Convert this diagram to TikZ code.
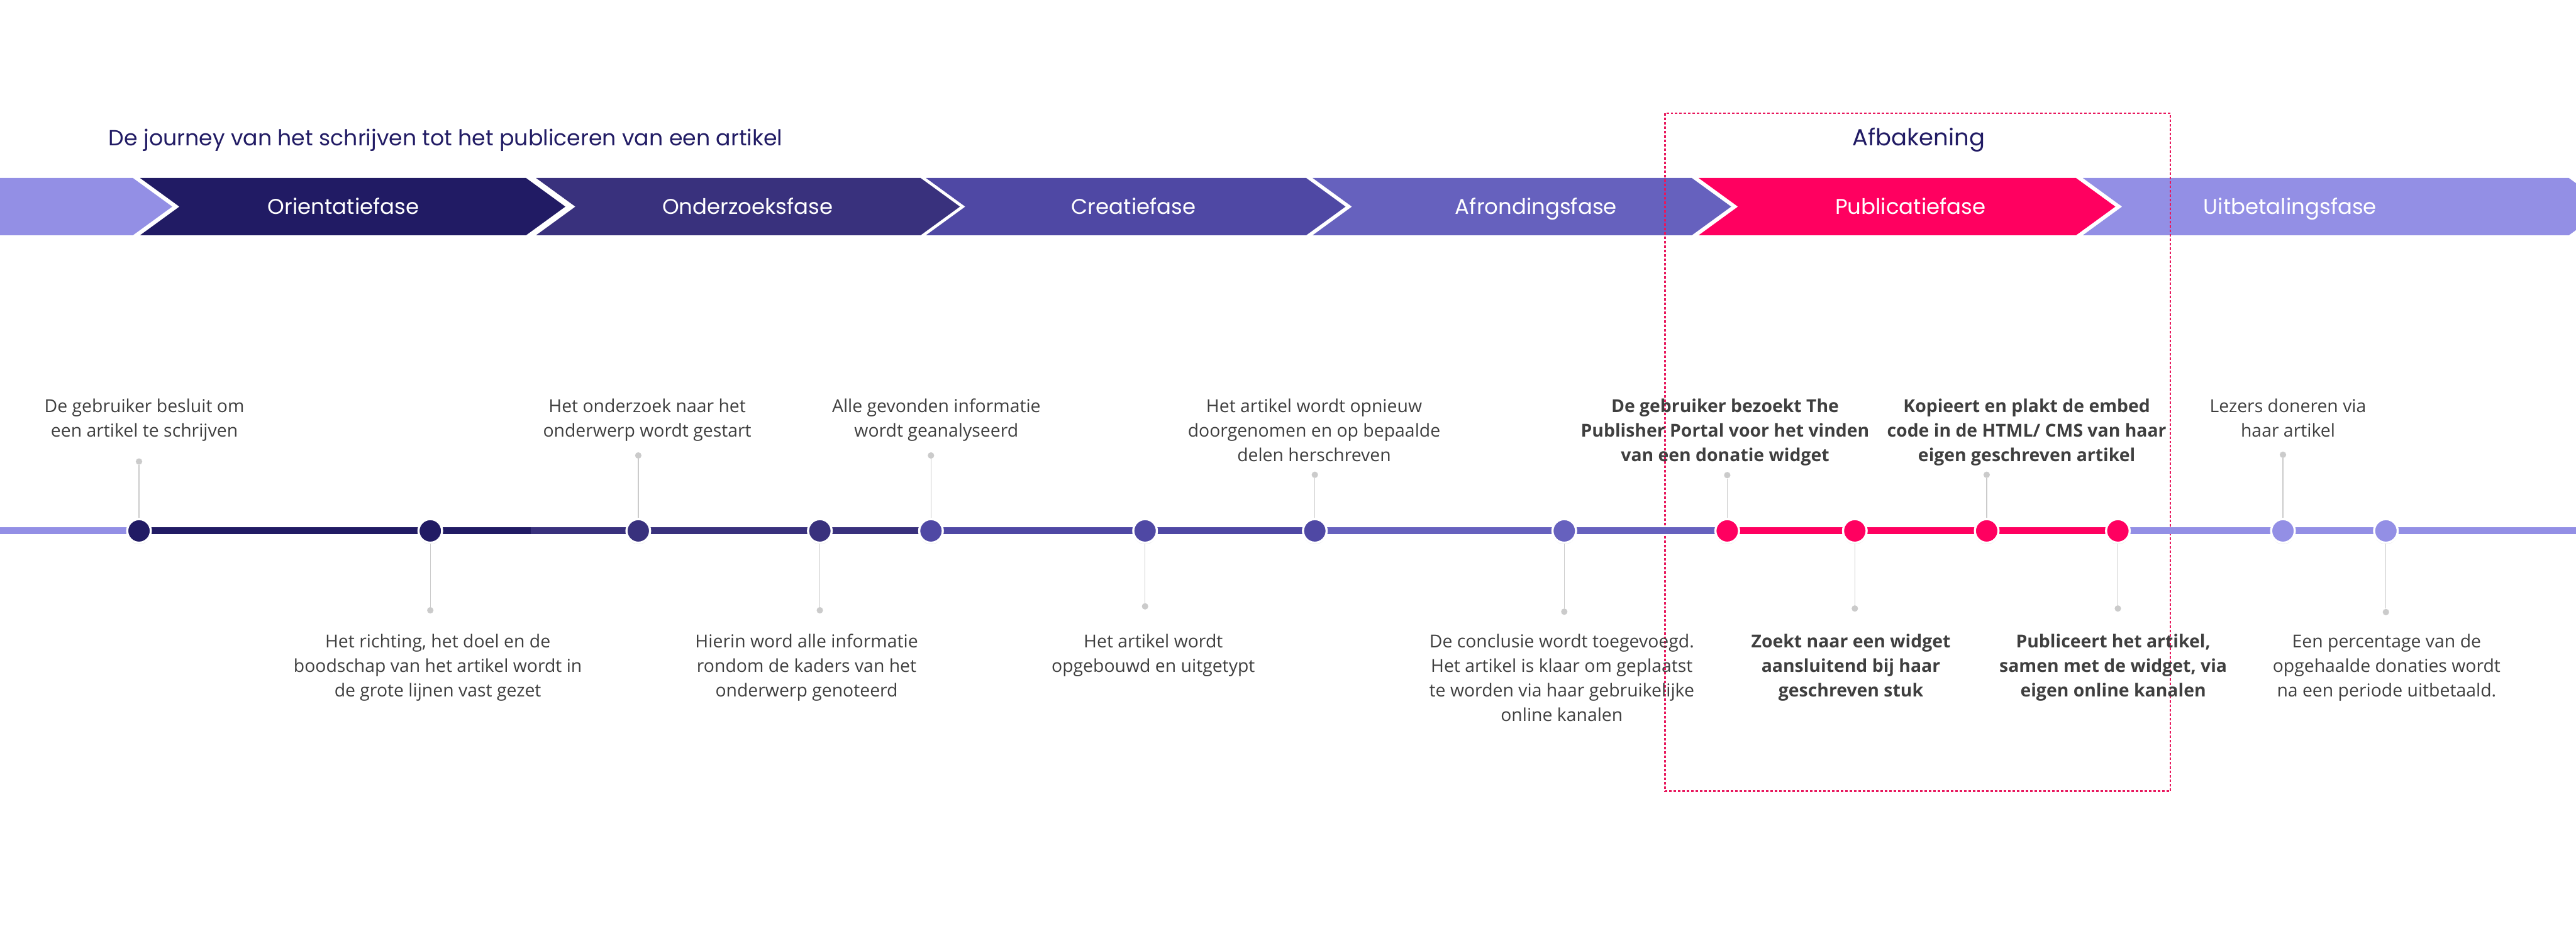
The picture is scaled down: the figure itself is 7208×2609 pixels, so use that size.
\documentclass[tikz,border=0pt]{standalone}
\usepackage{fontspec}
\setmainfont{Open Sans}
\newfontfamily\headfont{Poppins}
\usetikzlibrary{positioning,shadows}

\definecolor{navy}{HTML}{211B64}
\definecolor{deepblue}{HTML}{39317D}
\definecolor{midblue}{HTML}{4F48A4}
\definecolor{softblue}{HTML}{6661BE}
\definecolor{lightblue}{HTML}{938FE5}
\definecolor{hotpink}{HTML}{FF0060}
\definecolor{boxred}{HTML}{E8175D}
\definecolor{txtgray}{HTML}{3F3F3F}
\definecolor{stemgray}{HTML}{CBCBCB}

\begin{document}
\begin{tikzpicture}[x=0.01cm, y=-0.01cm]
	\tikzset{PhaseStyle/.style = {
			text=white,
			anchor=base,
			font=\headfont\fontsize{17}{19}\selectfont
	}}
	\tikzset{TitleStyle/.style = {
			text=navy,
			font=\headfont\fontsize{17.4}{19}\selectfont
	}}
	\tikzset{DotStyle/.style = {
			shape=circle,
			draw=white,
			line width=1.7pt,
			minimum size=0.66cm,
			inner sep=0pt,
			drop shadow={opacity=0.18, shadow xshift=0pt, shadow yshift=-1.2pt}
	}}
	\tikzset{EndStyle/.style = {
			shape=circle,
			fill=stemgray,
			minimum size=0.18cm,
			inner sep=0pt
	}}
	\tikzset{LabelStyle/.style = {
			text=txtgray,
			align=center,
			inner sep=0pt,
			anchor=north,
			font=\fontsize{14.2}{19.6}\selectfont
	}}
	\tikzset{BoldLabel/.style = {
			LabelStyle,
			font=\bfseries\fontsize{14.2}{19.6}\selectfont
	}}
	\tikzset{StemStyle/.style = {draw=stemgray, line width=0.6pt}}
	\tikzset{SegStyle/.style = {line width=0.19cm}}

	\useasboundingbox (0,0) rectangle (7208,2609);

	% phase band
	\fill[lightblue] (-10,498) -- (372,498) -- (482,578) -- (372,658) -- (-10,658) -- cycle;
	\fill[navy] (392,498) -- (1472,498) -- (1582,578) -- (1472,658) -- (392,658) -- (502,578) -- cycle;
	\fill[deepblue] (1500,498) -- (2576,498) -- (2686,578) -- (2576,658) -- (1500,658) -- (1610,578) -- cycle;
	\fill[midblue] (2591,498) -- (3655,498) -- (3765,578) -- (3655,658) -- (2591,658) -- (2701,578) -- cycle;
	\fill[softblue] (3673,498) -- (4734,498) -- (4844,578) -- (4734,658) -- (3673,658) -- (3783,578) -- cycle;
	\fill[hotpink] (4753,498) -- (5809,498) -- (5919,578) -- (5809,658) -- (4753,658) -- (4863,578) -- cycle;
	\fill[lightblue] (5828,498) -- (7188,498) -- (7298,578) -- (7188,658) -- (5828,658) -- (5938,578) -- cycle;

	\node[PhaseStyle] (ph1) at (961,600) {Orientatiefase};
	\node[PhaseStyle] (ph2) at (2092,600) {Onderzoeksfase};
	\node[PhaseStyle] (ph3) at (3172,600) {Creatiefase};
	\node[PhaseStyle] (ph4) at (4298,600) {Afrondingsfase};
	\node[PhaseStyle] (ph5) at (5346,600) {Publicatiefase};
	\node[PhaseStyle] (ph6) at (6408,600) {Uitbetalingsfase};

	\node[TitleStyle, anchor=base west] (title) at (292,408) {De journey van het schrijven tot het publiceren van een artikel};
	\node[TitleStyle, anchor=base, font=\headfont\fontsize{18.5}{20}\selectfont] (afb) at (5369,408) {Afbakening};
	\draw[boxred, line width=1.1pt, dash pattern=on 2pt off 1.5pt] (4659,317) rectangle (6073,2213);

	% timeline
	\coordinate (L) at (0,1485);
	\coordinate (R) at (7208,1485);
	\coordinate (b1) at (1485,1485);
	\coordinate (p1) at (389,1485);
	\coordinate (p2) at (1204,1485);
	\coordinate (p3) at (1786,1485);
	\coordinate (p4) at (2294,1485);
	\coordinate (p5) at (2605,1485);
	\coordinate (p6) at (3204,1485);
	\coordinate (p7) at (3679,1485);
	\coordinate (p8) at (4377,1485);
	\coordinate (p9) at (4833,1485);
	\coordinate (p10) at (5190,1485);
	\coordinate (p11) at (5559,1485);
	\coordinate (p12) at (5926,1485);
	\coordinate (p13) at (6388,1485);
	\coordinate (p14) at (6676,1485);

	\draw[SegStyle, lightblue] (L) -- (p1);
	\draw[SegStyle, navy] (p1) -- (b1);
	\draw[SegStyle, deepblue] (b1) -- (p5);
	\draw[SegStyle, midblue] (p5) -- (p7);
	\draw[SegStyle, softblue] (p7) -- (p9);
	\draw[SegStyle, hotpink] (p9) -- (p12);
	\draw[SegStyle, lightblue] (p12) -- (R);

	\node[DotStyle, fill=navy] (d1) at (p1) {};
	\node[DotStyle, fill=navy] (d2) at (p2) {};
	\node[DotStyle, fill=deepblue] (d3) at (p3) {};
	\node[DotStyle, fill=deepblue] (d4) at (p4) {};
	\node[DotStyle, fill=midblue] (d5) at (p5) {};
	\node[DotStyle, fill=midblue] (d6) at (p6) {};
	\node[DotStyle, fill=midblue] (d7) at (p7) {};
	\node[DotStyle, fill=softblue] (d8) at (p8) {};
	\node[DotStyle, fill=hotpink] (d9) at (p9) {};
	\node[DotStyle, fill=hotpink] (d10) at (p10) {};
	\node[DotStyle, fill=hotpink] (d11) at (p11) {};
	\node[DotStyle, fill=hotpink] (d12) at (p12) {};
	\node[DotStyle, fill=lightblue] (d13) at (p13) {};
	\node[DotStyle, fill=lightblue] (d14) at (p14) {};

	% stem ends
	\node[EndStyle] (e1) at (389,1291) {};
	\node[EndStyle] (e2) at (1204,1707) {};
	\node[EndStyle] (e3) at (1786,1274) {};
	\node[EndStyle] (e4) at (2294,1707) {};
	\node[EndStyle] (e5) at (2605,1274) {};
	\node[EndStyle] (e6) at (3204,1696) {};
	\node[EndStyle] (e7) at (3679,1328) {};
	\node[EndStyle] (e8) at (4377,1711) {};
	\node[EndStyle] (e9) at (4833,1329) {};
	\node[EndStyle] (e10) at (5190,1702) {};
	\node[EndStyle] (e11) at (5559,1328) {};
	\node[EndStyle] (e12) at (5926,1702) {};
	\node[EndStyle] (e13) at (6388,1272) {};
	\node[EndStyle] (e14) at (6676,1712) {};

	\path [StemStyle] (d1) edge (e1);
	\path [StemStyle] (d2) edge (e2);
	\path [StemStyle] (d3) edge (e3);
	\path [StemStyle] (d4) edge (e4);
	\path [StemStyle] (d5) edge (e5);
	\path [StemStyle] (d6) edge (e6);
	\path [StemStyle] (d7) edge (e7);
	\path [StemStyle] (d8) edge (e8);
	\path [StemStyle] (d9) edge (e9);
	\path [StemStyle] (d10) edge (e10);
	\path [StemStyle] (d11) edge (e11);
	\path [StemStyle] (d12) edge (e12);
	\path [StemStyle] (d13) edge (e13);
	\path [StemStyle] (d14) edge (e14);

	% labels above
	\node[LabelStyle] (t1) at (404,1114) {De gebruiker besluit om\\een artikel te schrijven};
	\node[LabelStyle] (t3) at (1811,1114) {Het onderzoek naar het\\onderwerp wordt gestart};
	\node[LabelStyle] (t5) at (2620,1114) {Alle gevonden informatie\\wordt geanalyseerd};
	\node[LabelStyle] (t7) at (3677,1114) {Het artikel wordt opnieuw\\doorgenomen en op bepaalde\\delen herschreven};
	\node[BoldLabel] (t9) at (4827,1114) {De gebruiker bezoekt The\\Publisher Portal voor het vinden\\van een donatie widget};
	\node[BoldLabel] (t11) at (5671,1114) {Kopieert en plakt de embed\\code in de HTML/ CMS van haar\\eigen geschreven artikel};
	\node[LabelStyle] (t13) at (6402,1114) {Lezers doneren via\\haar artikel};

	% labels below
	\node[LabelStyle] (t2) at (1225,1773) {Het richting, het doel en de\\boodschap van het artikel wordt in\\de grote lijnen vast gezet};
	\node[LabelStyle] (t4) at (2257,1773) {Hierin word alle informatie\\rondom de kaders van het\\onderwerp genoteerd};
	\node[LabelStyle] (t6) at (3227,1773) {Het artikel wordt\\opgebouwd en uitgetypt};
	\node[LabelStyle] (t8) at (4370,1773) {De conclusie wordt toegevoegd.\\Het artikel is klaar om geplaatst\\te worden via haar gebruikelijke\\online kanalen};
	\node[BoldLabel] (t10) at (5179,1773) {Zoekt naar een widget\\aansluitend bij haar\\geschreven stuk};
	\node[BoldLabel] (t12) at (5913,1773) {Publiceert het artikel,\\samen met de widget, via\\eigen online kanalen};
	\node[LabelStyle] (t14) at (6678,1773) {Een percentage van de\\opgehaalde donaties wordt\\na een periode uitbetaald.};
\end{tikzpicture}
\end{document}
